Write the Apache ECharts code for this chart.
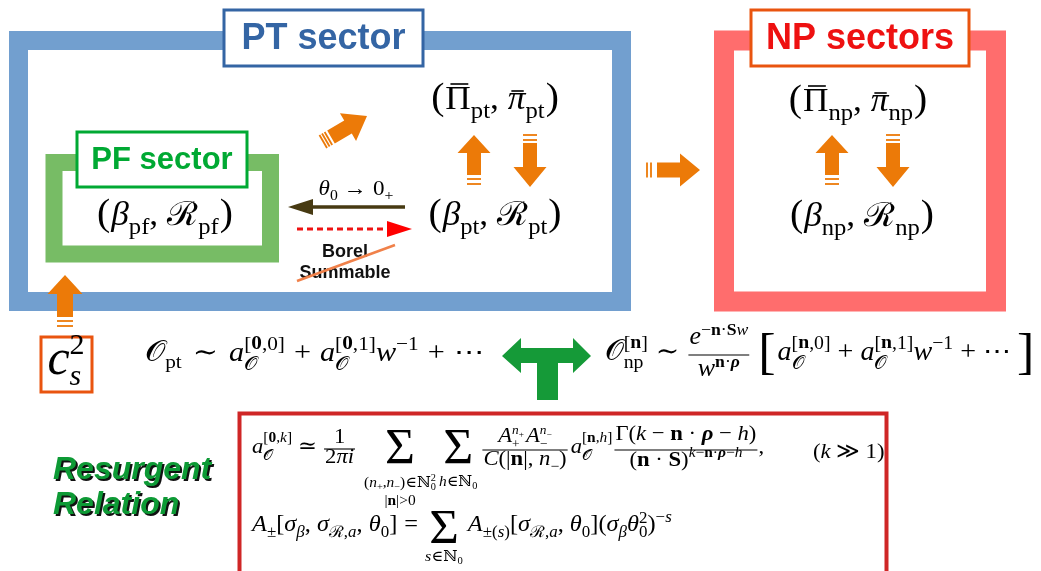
<!DOCTYPE html>
<html>
<head>
<meta charset="utf-8">
<script src="https://cdn.jsdelivr.net/npm/echarts@6/dist/echarts.min.js"></script>
<style>
  html, body { margin: 0; padding: 0; background: #fff; }
  #chart { width: 1041px; height: 571px; }
</style>
</head>
<body>
<div id="chart"></div>
<script>
// labels of the diagram
const sectorTitles = ['PT sector', 'PF sector', 'NP sectors']
const sideLabel = ['Resurgent', 'Relation']
const borelLabel = ['Borel', 'Summable']
const pairSubs = ['pf', 'pt', 'np']

const MF = '"Liberation Serif", "DejaVu Serif", serif'
const SF = '"Liberation Sans", Arial, sans-serif'
const ORANGE = '#ec7a08'

const ctx = document.createElement('canvas').getContext('2d')
const els = []
let curK = 1 // horizontal stretch of math glyphs (closer to the TeX font widths)

const fontOf = (f, s) => (f.includes('i') ? 'italic ' : '') + (f.includes('b') ? 'bold ' : '') + s + 'px ' + MF
const measure = (t, f, s) => { ctx.font = fontOf(f, s); return ctx.measureText(t).width * curK }

// token helpers
const T = (t, s, f = 'r', dy = 0) => ['t', t, s, f, dy]
const SS = (sup, sub, up, down) => ['ss', sup, sub, up, down]
const FR = (num, den, numUp, denDown, axis) => ['fr', num, den, numUp, denDown, axis]
const OP = (t, s, dy, under) => ['op', t, s, dy, under]
const SP = w => ['sp', w]
const BAR = (t, s, f, up) => ['bar', t, s, f, up]

function textEl (t, x, base, s, f, color) {
  return {
    type: 'text', x: x, y: base - 0.34 * s, scaleX: curK, silent: true,
    style: { text: t, font: fontOf(f, s), fill: color, textVerticalAlign: 'middle', verticalAlign: 'middle' }
  }
}

function layout (tokens, x, base, out, color = '#000') {
  let cx = x
  for (const tk of tokens) {
    const k = tk[0]
    if (k === 't') {
      const w = measure(tk[1], tk[3], tk[2])
      if (out) out.push(textEl(tk[1], cx, base + tk[4], tk[2], tk[3], color))
      cx += w
    } else if (k === 'sp') {
      cx += tk[1]
    } else if (k === 'bar') {
      const w = measure(tk[1], tk[3], tk[2])
      if (out) {
        out.push(textEl(tk[1], cx, base, tk[2], tk[3], color))
        out.push({ type: 'line', silent: true, z: 10, shape: { x1: cx + w * 0.2, y1: base - tk[4], x2: cx + w * 0.9, y2: base - tk[4] }, style: { stroke: color, lineWidth: 1.6 } })
      }
      cx += w
    } else if (k === 'ss') {
      const w1 = tk[1].length ? layout(tk[1], cx, base - tk[3], out, color) : 0
      const w2 = tk[2].length ? layout(tk[2], cx, base + tk[4], out, color) : 0
      cx += Math.max(w1, w2)
    } else if (k === 'fr') {
      const wn = layout(tk[1], 0, 0, null)
      const wd = layout(tk[2], 0, 0, null)
      const W = Math.max(wn, wd) + 4
      const ly = base - tk[5]
      if (out) {
        layout(tk[1], cx + (W - wn) / 2, ly - tk[3], out, color)
        layout(tk[2], cx + (W - wd) / 2, ly + tk[4], out, color)
        out.push({ type: 'line', silent: true, shape: { x1: cx + 1, y1: ly, x2: cx + W - 1, y2: ly }, style: { stroke: color, lineWidth: 1.1 } })
      }
      cx += W
    } else if (k === 'op') {
      const wo = measure(tk[1], 'r', tk[2])
      const ws = tk[4].map(u => layout(u[0], 0, 0, null))
      const W = Math.max(wo, ...ws)
      if (out) {
        out.push(textEl(tk[1], cx + (W - wo) / 2, base + tk[3], tk[2], 'r', color))
        tk[4].forEach((u, i) => layout(u[0], cx + (W - ws[i]) / 2, base + u[1], out, color))
      }
      cx += W
    }
  }
  return cx - x
}

function place (tokens, x, base, align, k = 1) {
  curK = k
  const w = layout(tokens, 0, 0, null)
  const x0 = align === 'center' ? x - w / 2 : x
  layout(tokens, x0, base, els)
  curK = 1
}

function blockArrow (x1, y1, x2, y2, sw, hw, hl, marks, color) {
  const dx = x2 - x1, dy = y2 - y1, L = Math.hypot(dx, dy)
  const ux = dx / L, uy = dy / L, px = -uy, py = ux
  const P = (a, b) => [x1 + ux * a + px * b, y1 + uy * a + py * b]
  els.push({ type: 'polygon', silent: true, shape: { points: [P(0, -sw / 2), P(L - hl, -sw / 2), P(L - hl, -hw / 2), P(L, 0), P(L - hl, hw / 2), P(L - hl, sw / 2), P(0, sw / 2)] }, style: { fill: color } })
  marks.forEach(d => {
    const a = P(-d, -sw / 2), b = P(-d, sw / 2)
    els.push({ type: 'line', silent: true, shape: { x1: a[0], y1: a[1], x2: b[0], y2: b[1] }, style: { stroke: color, lineWidth: 1.8 } })
  })
}

function frame (x, y, w, h, lw, color) {
  els.push({ type: 'rect', silent: true, shape: { x: x, y: y, width: w, height: h }, style: { fill: null, stroke: color, lineWidth: lw } })
}

function titleBox (x, y, w, h, border, text, color, size) {
  els.push({ type: 'rect', silent: true, shape: { x: x, y: y, width: w, height: h }, style: { fill: '#fff', stroke: border, lineWidth: 3 } })
  els.push({ type: 'text', silent: true, x: x + w / 2, y: y + h / 2 + 1, style: { text: text, font: 'bold ' + size + 'px ' + SF, fill: color, textAlign: 'center', textVerticalAlign: 'middle', verticalAlign: 'middle' } })
}

// ---- sector frames
frame(18.5, 40.5, 603, 261, 19, '#729fcf')
frame(724, 40.5, 272, 261, 20, '#ff6d6d')
frame(54, 162.5, 216.5, 91.5, 17, '#77bc65')

titleBox(224, 10, 199, 56, '#3465a4', sectorTitles[0], '#3465a4', 36)
titleBox(77, 132, 170, 55, '#00a933', sectorTitles[1], '#00a933', 31)
titleBox(751, 10, 218, 56, '#e9540f', sectorTitles[2], '#ee1111', 36)

// ---- pairs of variables
const pairTokens = (first, firstF, second, secondF, sub, barred) => [
  T('(', 37), SP(1), barred ? BAR(first, 33, firstF, firstF === 'r' ? 28 : 21) : T(first, 33, firstF),
  SS([], [T(sub, 23)], 0, 8), T(',', 33), SP(9),
  barred ? BAR(second, 33, secondF, 21) : T(second, 33, secondF),
  SS([], [T(sub, 23)], 0, 8), SP(1), T(')', 37)
]
place(pairTokens('β', 'i', 'ℛ', 'r', pairSubs[0], false), 165, 228, 'center', 1.07)
place(pairTokens('Π', 'r', 'π', 'i', pairSubs[1], true), 495, 112, 'center', 1.07)
place(pairTokens('β', 'i', 'ℛ', 'r', pairSubs[1], false), 495, 228, 'center', 1.07)
place(pairTokens('Π', 'r', 'π', 'i', pairSubs[2], true), 858, 114, 'center', 1.07)
place(pairTokens('β', 'i', 'ℛ', 'r', pairSubs[2], false), 862, 229, 'center', 1.07)

// ---- orange arrows
blockArrow(331, 137, 367, 116, 15, 32, 22, [3, 6, 9], ORANGE)
blockArrow(474, 175, 474, 135, 14, 33, 18, [4, 9], ORANGE)
blockArrow(530, 143, 530, 187, 14, 33, 20, [3, 8], ORANGE)
blockArrow(832, 175, 832, 135, 14, 33, 18, [4, 9], ORANGE)
blockArrow(893, 143, 893, 187, 14, 33, 20, [3, 8], ORANGE)
blockArrow(657, 170, 700, 170, 15, 33, 20, [6, 10], ORANGE)
blockArrow(65, 317, 65, 275, 16, 35, 19, [4, 9], ORANGE)

// ---- limit arrow and Borel arrow
els.push({ type: 'line', silent: true, shape: { x1: 405, y1: 207, x2: 308, y2: 207 }, style: { stroke: '#473a12', lineWidth: 3.5 } })
els.push({ type: 'polygon', silent: true, shape: { points: [[288, 207], [313, 199], [313, 215]] }, style: { fill: '#473a12' } })
place([T('θ', 22, 'i'), SS([], [T('0', 15)], 0, 4), SP(6), T('→', 22), SP(6), T('0', 22), SS([], [T('+', 15)], 0, 4)], 356, 197, 'center', 1.05)

els.push({ type: 'line', silent: true, shape: { x1: 297, y1: 229, x2: 390, y2: 229 }, style: { stroke: '#ee1111', lineWidth: 3, lineDash: [6, 4] } })
els.push({ type: 'polygon', silent: true, shape: { points: [[412, 229], [387, 221], [387, 237]] }, style: { fill: '#ff0000' } })
borelLabel.forEach((t, i) => {
  els.push({ type: 'text', silent: true, x: 345, y: 252 + i * 21, style: { text: t, font: 'bold 18px ' + SF, fill: '#111', textAlign: 'center', textVerticalAlign: 'middle', verticalAlign: 'middle' } })
})
els.push({ type: 'line', silent: true, shape: { x1: 297, y1: 281, x2: 395, y2: 245 }, style: { stroke: '#f0814a', lineWidth: 2.5 } })

// ---- c_s^2 box
els.push({ type: 'rect', silent: true, shape: { x: 41, y: 337, width: 51, height: 55 }, style: { fill: '#fff', stroke: '#e9540f', lineWidth: 3 } })
place([T('c', 50, 'i'), SS([T('2', 30)], [T('s', 30, 'i')], 22, 9)], 66, 378, 'center')

// ---- asymptotic expansions
const M = 27, S = 19
const aO = sup => [T('a', M, 'i'), SS(sup, [T('𝒪', S)], 12, 8)]
const idx = (first, firstF, second, secondF, sz = S) => [T('[', sz), T(first, sz, firstF), T(',', sz), T(second, sz, secondF), T(']', sz)]
const bin = (t, g = 7) => [SP(g), T(t, M), SP(g)]
const tailOf = g => [T('w', M, 'i'), SS([T('−1', S)], [], 12, 0), ...bin('+', g), T('⋯', M)]

place([T('𝒪', M + 2), SS([], [T('pt', S)], 0, 6), SP(11), T('∼', M), SP(11),
  ...aO(idx('0', 'b', '0', 'r')), ...bin('+', 9), ...aO(idx('0', 'b', '1', 'r')), ...tailOf(9)], 145, 363, 'left', 1.12)

const numE = [T('e', M - 2, 'i'), SS([T('−', S - 2), T('n', S - 2, 'b'), T('·', S - 2), T('S', S - 2, 'b'), T('w', S - 2, 'i')], [], 10, 0)]
const denW = [T('w', M - 2, 'i'), SS([T('n', S - 2, 'b'), T('·', S - 2), T('ρ', S - 2, 'bi')], [], 10, 0)]
place([T('𝒪', M + 2), SS([T('[', S), T('n', S, 'b'), T(']', S)], [T('np', S)], 12, 7), SP(8), T('∼', M), SP(8),
  FR(numE, denW, 9, 23, 7), SP(8), T('[', 50, 'r', 10), SP(2),
  ...aO(idx('n', 'b', '0', 'r')), ...bin('+'), ...aO(idx('n', 'b', '1', 'r')), ...tailOf(7), SP(6),
  T(']', 50, 'r', 10)], 605, 362, 'left', 1.04)

// ---- green T arrow
els.push({ type: 'polygon', silent: true, shape: { points: [[502, 356], [521, 338], [521, 348], [573, 348], [573, 338], [591, 356], [573, 373], [573, 363], [558, 363], [558, 400], [537, 400], [537, 363], [521, 363], [521, 373]] }, style: { fill: '#159a38' } })

// ---- resurgent relation box
els.push({ type: 'rect', silent: true, shape: { x: 239.5, y: 413.5, width: 647, height: 200 }, style: { fill: '#fff', stroke: '#cf2626', lineWidth: 4 } })
sideLabel.forEach((t, i) => {
  const st = { text: t, font: 'italic bold 32px ' + SF, textVerticalAlign: 'middle', verticalAlign: 'middle' }
  els.push({ type: 'text', silent: true, x: 55, y: 472 + i * 35, style: Object.assign({ fill: '#111' }, st) })
  els.push({ type: 'text', silent: true, x: 53, y: 470 + i * 35, style: Object.assign({ fill: '#0d9a35' }, st) })
})

const R = 22, s2 = 15, s3 = 10
const N0 = sz => [T('ℕ', sz), SS([], [T('0', sz - 5)], 0, 3)]
const under1 = [T('(', s2), T('n', s2, 'i'), SS([], [T('+', s3)], 0, 3), T(',', s2), T('n', s2, 'i'), SS([], [T('−', s3)], 0, 3), T(')', s2),
  T('∈', s2), T('ℕ', s2), SS([T('2', s3)], [T('0', s3)], 6, 3)]
const under2 = [T('|', s2), T('n', s2, 'b'), T('|>0', s2)]
const numA = [T('A', R, 'i'), SS([T('n', 13, 'i'), SS([], [T('+', 9)], 0, 3)], [T('+', 13)], 9, 5), SP(2),
  T('A', R, 'i'), SS([T('n', 13, 'i'), SS([], [T('−', 9)], 0, 3)], [T('−', 13)], 9, 5)]
const denC = [T('C', R, 'i'), T('(|', R), T('n', R, 'b'), T('|, ', R), T('n', R, 'i'), SS([], [T('−', s2)], 0, 5), T(')', R)]
const numG = [T('Γ(', R), T('k', R, 'i'), T(' − ', R), T('n', R, 'b'), T(' · ', R), T('ρ', R, 'bi'), T(' − ', R), T('h', R, 'i'), T(')', R)]
const denG = [T('(', R), T('n', R, 'b'), T(' · ', R), T('S', R, 'b'), T(')', R),
  SS([T('k', s2, 'i'), T('−', s2), T('n', s2, 'b'), T('·', s2), T('ρ', s2, 'bi'), T('−', s2), T('h', s2, 'i')], [], 10, 0)]

place([T('a', R, 'i'), SS(idx('0', 'b', 'k', 'i', s2), [T('𝒪', s2)], 12, 6), SP(6), T('≃', R), SP(6),
  FR([T('1', R)], [T('2', R), T('π', R, 'i'), T('i', R, 'i')], 4, 16, 6), SP(8),
  OP('Σ', 50, 12, [[under1, 33], [under2, 51]]), SP(3),
  OP('Σ', 50, 12, [[[T('h', s2, 'i'), T('∈', s2), ...N0(s2)], 32]]), SP(4),
  FR(numA, denC, 6, 17, 5), SP(2), T('a', R, 'i'), SS(idx('n', 'b', 'h', 'i', s2), [T('𝒪', s2)], 12, 6), SP(1),
  FR(numG, denG, 8, 18, 5), T(',', R)], 252, 455, 'left', 1.03)
place([T('(', R), T('k', R, 'i'), T(' ≫ ', R), T('1)', R)], 813, 460, 'left', 1.03)

const R2 = 23, t2 = 16
const sigR = [T('σ', R2, 'i'), SS([], [T('ℛ', t2), T(',', t2), T('a', t2, 'i')], 0, 5)]
const th0 = [T('θ', R2, 'i'), SS([], [T('0', t2)], 0, 5)]
place([T('A', R2, 'i'), SS([], [T('±', t2)], 0, 5), T('[', R2), T('σ', R2, 'i'), SS([], [T('β', t2, 'i')], 0, 5), T(', ', R2),
  ...sigR, T(', ', R2), ...th0, T(']', R2), SP(7), T('=', R2), SP(7),
  OP('Σ', 48, 14, [[[T('s', s2, 'i'), T('∈', s2), ...N0(s2)], 29]]), SP(5),
  T('A', R2, 'i'), SS([], [T('±(', t2), T('s', t2, 'i'), T(')', t2)], 0, 5), T('[', R2), ...sigR, T(', ', R2), ...th0, T(']', R2),
  T('(', R2), T('σ', R2, 'i'), SS([], [T('β', t2, 'i')], 0, 5), T('θ', R2, 'i'), SS([T('2', t2)], [T('0', t2)], 9, 5), T(')', R2),
  SS([T('−', t2), T('s', t2, 'i')], [], 10, 0)], 252, 533, 'left', 1.06)

const chart = echarts.init(document.getElementById('chart'), null, { renderer: 'canvas' })
chart.setOption({
  backgroundColor: '#fff',
  animation: false,
  graphic: { elements: els }
})
</script>
</body>
</html>
